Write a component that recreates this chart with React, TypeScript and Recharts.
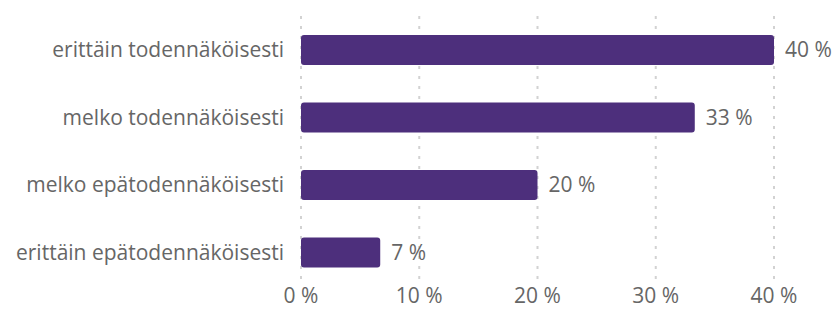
import { Bar, BarChart, CartesianGrid, LabelList, XAxis, YAxis } from "recharts";

const categories = [
  "erittäin todennäköisesti",
  "melko todennäköisesti",
  "melko epätodennäköisesti",
  "erittäin epätodennäköisesti"
];
const shares = [40, 33.3, 20, 6.7];
const xTicks = [0, 10, 20, 30, 40];

const data = categories.map((name, i) => ({ name, value: shares[i] }));

const textColor = "#666666";
const font = "'Open Sans', sans-serif";

export default function App() {
  return (
    <div style={{ position: "fixed", left: 0, top: 0, width: 839, height: 311, background: "#fff" }}>
      <BarChart
        width={839}
        height={311}
        data={data}
        layout="vertical"
        margin={{ top: 16, right: 65, left: 0, bottom: 0 }}
        barCategoryGap={0}
      >
        <CartesianGrid
          horizontal={false}
          stroke="#d2d2d2"
          strokeWidth={2}
          strokeDasharray="3 7"
        />
        <XAxis
          type="number"
          domain={[0, 40]}
          ticks={xTicks}
          tickFormatter={(v) => `${v} %`}
          axisLine={false}
          tickLine={false}
          tickSize={2}
          tickMargin={0}
          height={25}
          tick={{ fontSize: 21, fill: textColor, fontFamily: font }}
          interval={0}
        />
        <YAxis
          type="category"
          dataKey="name"
          width={301}
          axisLine={false}
          tickLine={false}
          tickMargin={11}
          tick={{ fontSize: 21, fill: textColor, fontFamily: font }}
        />
        <Bar dataKey="value" fill="#4d2f7c" barSize={30} radius={3} isAnimationActive={false}>
          <LabelList
            dataKey="value"
            position="right"
            offset={11}
            formatter={(v: number) => `${Math.round(v)} %`}
            style={{ fontSize: 21, fill: textColor, fontFamily: font }}
          />
        </Bar>
      </BarChart>
    </div>
  );
}
